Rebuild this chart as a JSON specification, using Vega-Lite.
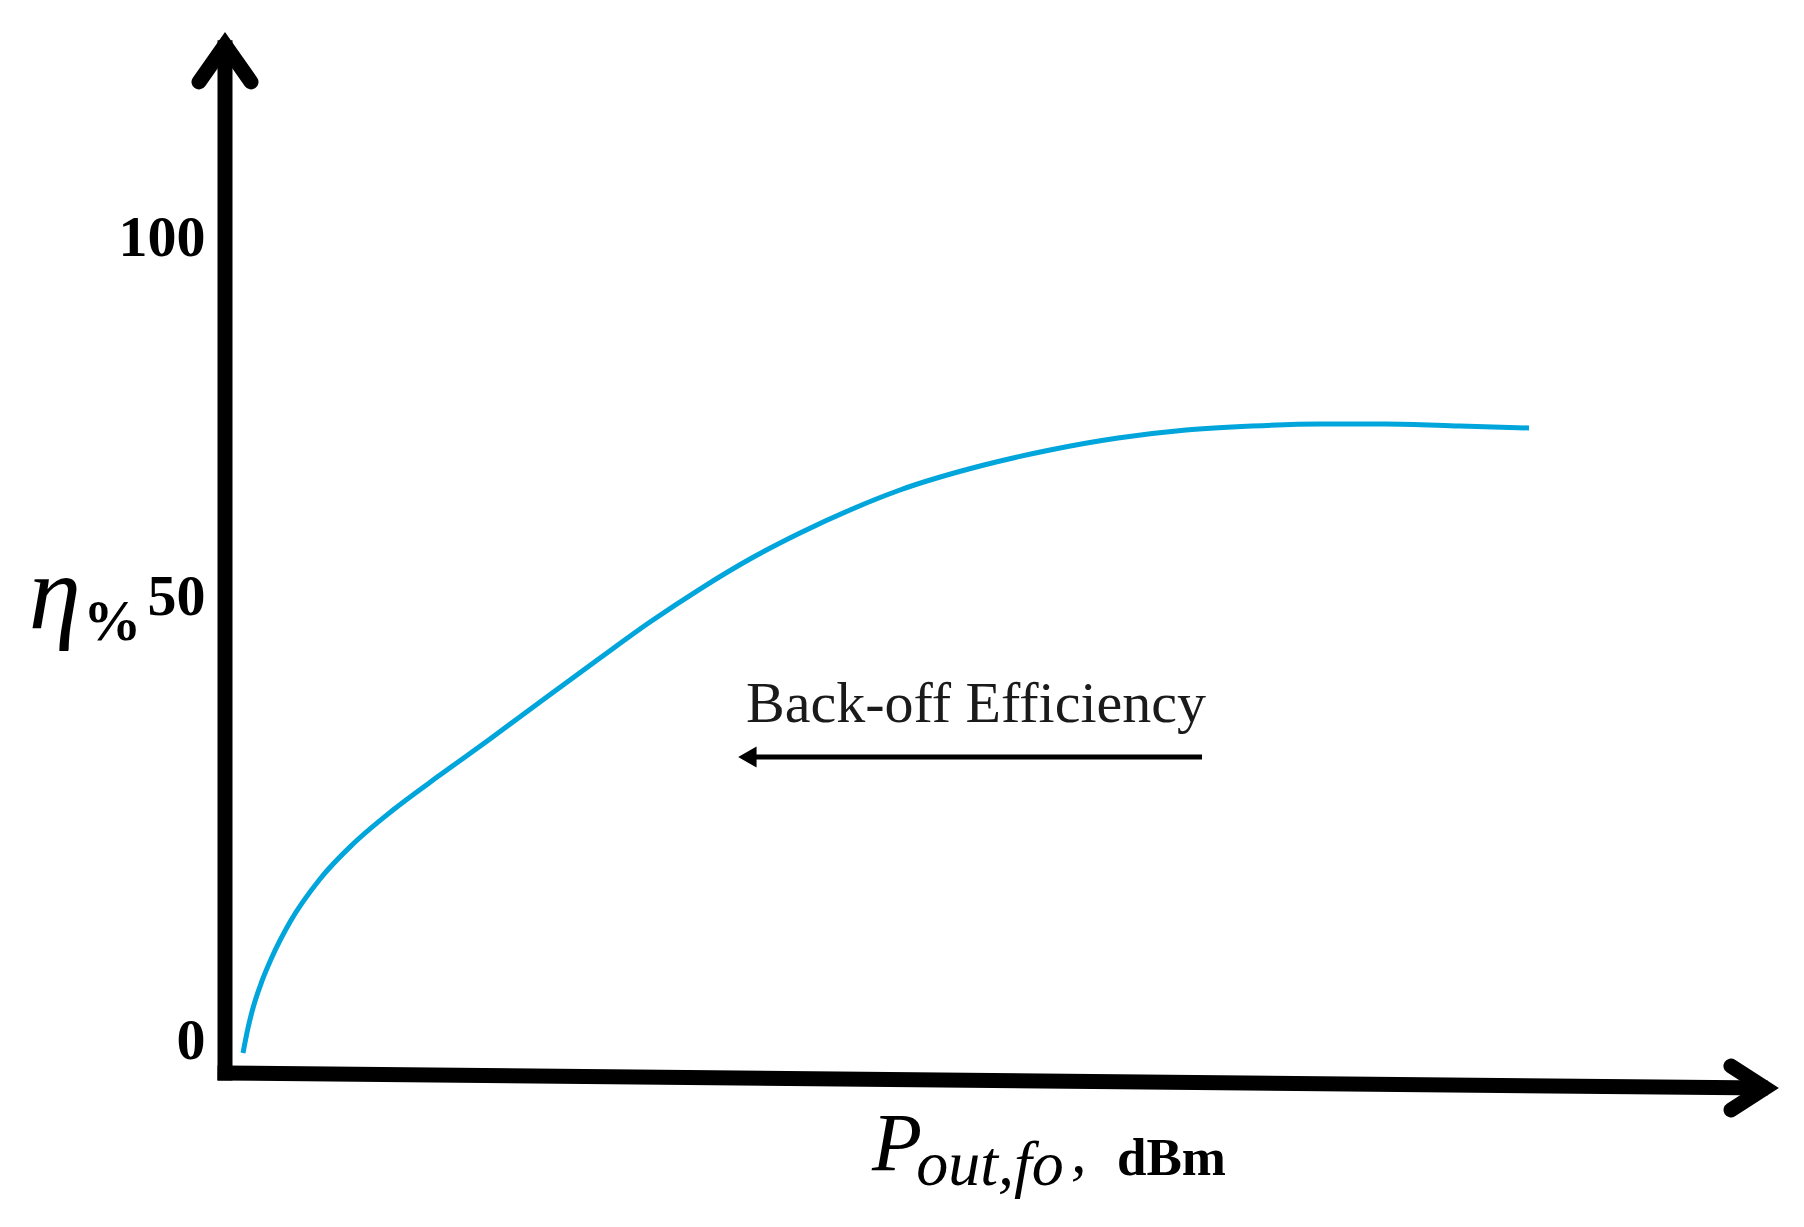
{
  "$schema": "https://vega.github.io/schema/vega-lite/v6.json",
  "autosize": "none",
  "width": 1557,
  "height": 1227,
  "padding": {"left": 225, "right": 22, "top": 0, "bottom": 0},
  "background": "white",
  "config": {"view": {"stroke": null}},
  "datasets": {
    "curve": [
      {"x": 1.156, "y": -1.35},
      {"x": 1.477, "y": 1.46},
      {"x": 1.798, "y": 3.72},
      {"x": 2.376, "y": 6.76},
      {"x": 3.019, "y": 9.46},
      {"x": 4.175, "y": 13.40},
      {"x": 6.101, "y": 18.24},
      {"x": 8.221, "y": 22.18},
      {"x": 10.790, "y": 26.01},
      {"x": 13.809, "y": 29.95},
      {"x": 17.020, "y": 34.01},
      {"x": 20.231, "y": 38.18},
      {"x": 24.085, "y": 43.13},
      {"x": 27.296, "y": 47.18},
      {"x": 30.507, "y": 51.11},
      {"x": 33.719, "y": 55.29},
      {"x": 36.930, "y": 58.91},
      {"x": 40.141, "y": 62.12},
      {"x": 43.353, "y": 64.90},
      {"x": 48.747, "y": 68.38},
      {"x": 52.986, "y": 70.47},
      {"x": 57.354, "y": 72.14},
      {"x": 61.721, "y": 73.26},
      {"x": 65.960, "y": 73.82},
      {"x": 70.327, "y": 74.09},
      {"x": 74.566, "y": 74.09},
      {"x": 79.319, "y": 73.82},
      {"x": 83.751, "y": 73.54}
    ],
    "axislines": [
      {"part": "yaxis", "o": 1, "x": 0, "y": -3.6},
      {"part": "yaxis", "o": 2, "x": 0, "y": 126.5},
      {"part": "xaxis", "o": 1, "x": 0, "y": -3.60},
      {"part": "xaxis", "o": 2, "x": 98.6, "y": -5.29}
    ],
    "heads": [
      {"part": "yhead", "o": 1, "x": -1.67, "y": 121.73},
      {"part": "yhead", "o": 2, "x": 0, "y": 126.88},
      {"part": "yhead", "o": 3, "x": 1.67, "y": 121.73},
      {"part": "xhead", "o": 1, "x": 96.72, "y": -2.82},
      {"part": "xhead", "o": 2, "x": 98.91, "y": -5.29},
      {"part": "xhead", "o": 3, "x": 96.72, "y": -7.77}
    ],
    "backoff": [
      {"x": 62.75, "y": 31.98},
      {"x": 33.9, "y": 31.98}
    ]
  },
  "layer": [
    {
      "encoding": {
        "x": {"field": "x", "type": "quantitative", "scale": {"domain": [0, 100], "nice": false, "zero": false}, "axis": null},
        "y": {"field": "y", "type": "quantitative", "scale": {"domain": [0, 50, 100], "range": [1041, 597, 238], "nice": false, "zero": false},
          "axis": {"values": [0, 50, 100], "title": null, "domain": false, "ticks": false, "grid": false, "labelPadding": 20,
            "labelFont": "Liberation Serif", "labelFontWeight": "bold", "labelFontSize": 58, "labelColor": "black", "labelBaseline": "middle", "labelFlush": false, "labelOverlap": false}}
      },
      "layer": [
        {
          "data": {"name": "axislines"},
          "mark": {"type": "line", "color": "black", "strokeWidth": 15, "strokeCap": "square"},
          "encoding": {"detail": {"field": "part"}, "order": {"field": "o", "type": "quantitative"}}
        },
        {
          "data": {"name": "heads"},
          "mark": {"type": "line", "color": "black", "strokeWidth": 15, "strokeJoin": "miter", "strokeCap": "round"},
          "encoding": {"detail": {"field": "part"}, "order": {"field": "o", "type": "quantitative"}}
        },
        {
          "data": {"name": "curve"},
          "mark": {"type": "line", "color": "#00A5DB", "strokeWidth": 5, "interpolate": "monotone"},
          "encoding": {}
        },
        {
          "data": {"name": "backoff"},
          "mark": {"type": "line", "color": "black", "strokeWidth": 5},
          "encoding": {}
        }
      ]
    },
    {
      "data": {"values": [{}]},
      "layer": [
        {
          "mark": {"type": "point", "shape": "triangle-left", "filled": true, "color": "black", "size": 450, "opacity": 1},
          "encoding": {"x": {"datum": 33.55, "type": "quantitative"}, "y": {"datum": 31.98, "type": "quantitative"}}
        },
        {
          "mark": {"type": "text", "text": "Back-off Efficiency", "font": "Liberation Serif", "fontSize": 58, "color": "#1a1a1a", "align": "left", "baseline": "alphabetic"},
          "encoding": {"x": {"datum": 33.46, "type": "quantitative"}, "y": {"datum": 35.92, "type": "quantitative"}}
        },
        {
          "mark": {"type": "text", "text": "η", "font": "Liberation Serif", "fontStyle": "italic", "fontSize": 105, "color": "black", "align": "left", "baseline": "alphabetic"},
          "encoding": {"x": {"datum": -12.6, "type": "quantitative"}, "y": {"datum": 46.5, "type": "quantitative"}}
        },
        {
          "mark": {"type": "text", "text": "%", "font": "Liberation Serif", "fontWeight": "bold", "fontSize": 58, "color": "black", "align": "left", "baseline": "alphabetic"},
          "encoding": {"x": {"datum": -9.1, "type": "quantitative"}, "y": {"datum": 45.16, "type": "quantitative"}}
        },
        {
          "mark": {"type": "text", "text": "P", "font": "Liberation Serif", "fontStyle": "italic", "fontSize": 82, "color": "black", "align": "left", "baseline": "alphabetic"},
          "encoding": {"x": {"datum": 41.55, "type": "quantitative"}, "y": {"datum": -14.53, "type": "quantitative"}}
        },
        {
          "mark": {"type": "text", "text": "out,fo", "font": "Liberation Serif", "fontStyle": "italic", "fontSize": 64, "color": "black", "align": "left", "baseline": "alphabetic"},
          "encoding": {"x": {"datum": 44.4, "type": "quantitative"}, "y": {"datum": -16.22, "type": "quantitative"}}
        },
        {
          "mark": {"type": "text", "text": ",", "font": "Liberation Serif", "fontStyle": "italic", "fontSize": 62, "color": "black", "align": "left", "baseline": "alphabetic"},
          "encoding": {"x": {"datum": 54.34, "type": "quantitative"}, "y": {"datum": -14.75, "type": "quantitative"}}
        },
        {
          "mark": {"type": "text", "text": "dBm", "font": "Liberation Serif", "fontWeight": "bold", "fontSize": 53, "color": "black", "align": "left", "baseline": "alphabetic"},
          "encoding": {"x": {"datum": 57.29, "type": "quantitative"}, "y": {"datum": -15.09, "type": "quantitative"}}
        }
      ]
    }
  ]
}
